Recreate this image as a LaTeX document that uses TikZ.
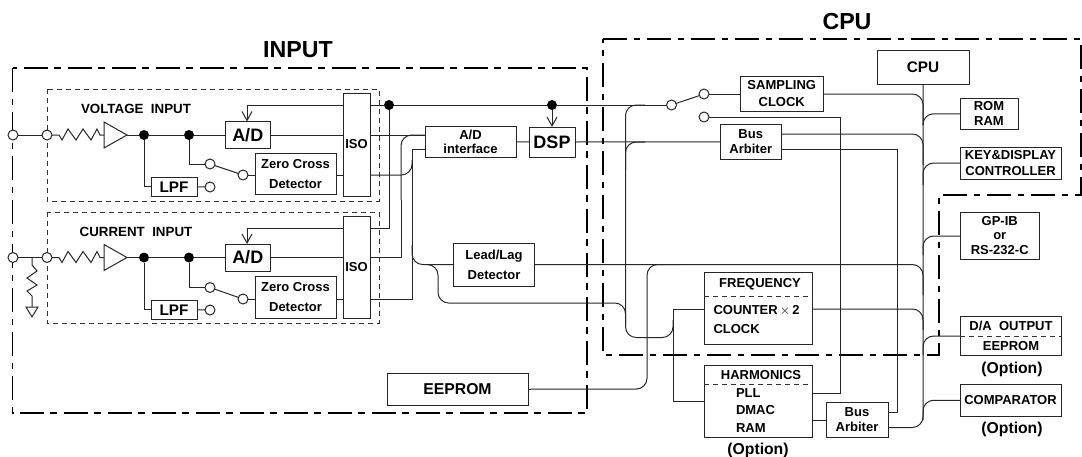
\documentclass[tikz,border=0pt]{standalone}
\usepackage{fontspec}
\setmainfont{Liberation Sans}
\usetikzlibrary{arrows.meta}
\newcommand{\fz}[2]{\fontsize{#1}{#2}\selectfont\bfseries}
\newcommand{\boxn}[7][]{\node[bx,#1,minimum width={(#5-#3)*0.75pt},minimum height={(#6-#4)*0.75pt}] (#2) at ({(#3+#5)/2},{(#4+#6)/2}) {#7};}
\tikzset{
  wire/.style={line width=0.75pt,draw=black!85},
  rc/.style={wire,rounded corners=8pt},
  region/.style={line width=1.2pt,draw=black,dash pattern=on 18pt off 5pt on 5pt off 5pt},
  inner/.style={line width=0.7pt,draw=black!80,dash pattern=on 3.75pt off 3pt},
  bx/.style={draw=black!85,line width=0.75pt,fill=white,inner sep=0pt,outer sep=0pt,align=center,font=\fz{9.75}{15}},
  term/.style={circle,draw=black!85,fill=white,line width=0.75pt,minimum size=7.5pt,inner sep=0pt,outer sep=0pt},
  jdot/.style={circle,fill=black,minimum size=7.5pt,inner sep=0pt,outer sep=0pt},
  lab/.style={inner sep=0pt,outer sep=0pt,align=center,font=\fz{9.75}{15}},
  opt/.style={lab,font=\fz{11.8}{14}},
  title/.style={lab,font=\fz{17.4}{20}},
  barb/.style={-{Straight Barb[length=6.75pt,width=7.5pt]}}
}
\begin{document}
\begin{tikzpicture}[x=0.75pt,y=-0.75pt]
\useasboundingbox (0,0) rectangle (1082,457);
% regions
\draw[region] (12.5,68) rectangle (587,413);
\draw[region] (603,39) -- (1081,39) -- (1081,195) -- (939,195) -- (939,355) -- (603,355) -- cycle;
\node[title] (tinput) at (298,50) {INPUT};
\node[title] (tcpu) at (847,22) {CPU};
\draw[inner] (47,89) rectangle (379,201);
\draw[inner] (47,212) rectangle (379,323);
\node[lab,font=\fz{10}{15}] (tvolt) at (136,109) {VOLTAGE\ \ INPUT};
\node[lab,font=\fz{10}{15}] (tcurr) at (136,232) {CURRENT\ \ INPUT};
% boxes
\boxn[font=\fz{13.5}{15}]{ad1}{225}{121.5}{270.5}{148.5}{A/D}
\boxn[font=\fz{13.5}{15}]{ad2}{225}{244}{270.5}{271}{A/D}
\boxn{iso1}{343}{93}{370}{196}{ISO}
\boxn{iso2}{343}{216}{370}{318}{ISO}
\boxn{zc1}{255}{153.5}{336}{194}{Zero Cross\\Detector}
\boxn{zc2}{255}{276.5}{336}{318}{Zero Cross\\Detector}
\boxn[font=\fz{11.5}{14}]{lpf1}{151}{177.5}{197}{196}{LPF}
\boxn[font=\fz{11.5}{14}]{lpf2}{151}{300.5}{197}{319}{LPF}
\boxn[font=\fz{9.75}{10.5}]{adif}{425}{126}{516}{157}{A/D\\interface}
\boxn[font=\fz{13.5}{15}]{dsp}{529}{127}{575}{157}{DSP}
\boxn{leadlag}{453.5}{243}{534.5}{286}{Lead/Lag\\Detector}
\boxn[font=\fz{11.8}{14}]{eeprom}{387}{373.5}{528}{405}{EEPROM}
\boxn[font=\fz{11.5}{14}]{cpu}{877}{50.5}{969}{84.5}{CPU}
\boxn[font=\fz{9.75}{12.5}]{samp}{740}{76}{823.5}{111}{SAMPLING\\CLOCK}
\boxn[font=\fz{9.75}{11.2}]{ba1}{720}{124.5}{781.5}{159}{Bus\\Arbiter}
\boxn[font=\fz{9.75}{11.2}]{ba2}{826}{402.5}{888}{437.5}{Bus\\Arbiter}
\boxn[font=\fz{9.75}{11.2}]{rom}{960}{98}{1018}{129.5}{ROM\\RAM}
\boxn[font=\fz{9.75}{12}]{key}{960}{147}{1061}{179}{KEY\&DISPLAY\\CONTROLLER}
\boxn[font=\fz{9.75}{10.9}]{gp}{960}{212}{1039.5}{259}{GP-IB\\or\\RS-232-C}
\boxn{freq}{704}{272.5}{812.5}{344.5}{}
\boxn{harm}{704}{365.5}{812.5}{437}{}
\boxn{da}{960}{316}{1061}{355}{}
\boxn{comp}{960}{384.5}{1061}{416}{COMPARATOR}
% box contents
\draw[inner] (freq.west |- 0,296) -- (freq.east |- 0,296);
\draw[inner] (harm.west |- 0,384) -- (harm.east |- 0,384);
\draw[inner] (da.west |- 0,336) -- (da.east |- 0,336);
\node[lab] (tf1) at (760,284) {FREQUENCY};
\node[lab,anchor=west] (tf2) at (713.5,311) {COUNTER\,$\times$\,2};
\node[lab,anchor=west] (tf3) at (713.5,329) {CLOCK};
\node[lab] (th1) at (761,375) {HARMONICS};
\node[lab,anchor=west] (th2) at (736,393) {PLL};
\node[lab,anchor=west] (th3) at (736,410.5) {DMAC};
\node[lab,anchor=west] (th4) at (736,428) {RAM};
\node[opt] (th5) at (758,450) {(Option)};
\node[lab] (td1) at (1011,326) {D/A\ \ OUTPUT};
\node[lab] (td2) at (1011,346) {EEPROM};
\node[opt] (td3) at (1012,369) {(Option)};
\node[opt] (tc3) at (1012,429) {(Option)};
% terminals and dots
\node[term] (in1) at (13,135) {};
\node[term] (vi1) at (47,135) {};
\node[term] (in2) at (13,257.5) {};
\node[term] (vi2) at (47,257.5) {};
\node[jdot] (d11) at (144,135) {};
\node[jdot] (d12) at (189,135) {};
\node[jdot] (d21) at (144,257.5) {};
\node[jdot] (d22) at (189,257.5) {};
\node[jdot] (dtop) at (389,105) {};
\node[jdot] (ddsp) at (552,105) {};
\node[term] (s1a) at (210,164) {};
\node[term] (s1c) at (243,175) {};
\node[term] (s1b) at (210,187) {};
\node[term] (s2a) at (210,287.5) {};
\node[term] (s2c) at (243,299) {};
\node[term] (s2b) at (210,310) {};
\node[term] (s3c) at (671.5,105) {};
\node[term] (s3a) at (704,94) {};
\node[term] (s3b) at (704,117) {};
% named points
\coordinate (amp1) at (127,135);
\coordinate (amp2) at (127,257.5);
\coordinate (busA) at (923,125);
\coordinate (busB) at (923,165);
\coordinate (busC) at (923,185);
\coordinate (busD) at (923,255);
\coordinate (busE) at (923,295);
\coordinate (busF) at (923,330);
\coordinate (busG) at (923,355);
\coordinate (busH) at (923,420);
\coordinate (leftA) at (625.5,170);
\coordinate (leftB) at (625.5,325);
\coordinate (x412a) at (412,149);
\coordinate (x412b) at (412,299);
\coordinate (x673a) at (673,309);
\coordinate (x673b) at (673,401.5);
% input chains
\begin{scope}[wire]
\draw (in1) -- (vi1);
\draw (vi1) -- (51.5,135) -- (59,135) -- (62,140) -- (68,129) -- (76,140) -- (83,129) -- (91,140) -- (97,129) -- (100,135) -- (104,135);
\draw (104,122) -- (amp1) -- (104,148) -- cycle;
\draw (amp1) -- (d11) -- (d12) -- (ad1);
\draw (ad1) -- (iso1.west |- ad1);
\draw (d11) |- (lpf1);
\draw (lpf1) -- (s1b);
\draw (d12) |- (s1a);
\draw (s1a) -- (s1c);
\draw (s1c) -- (s1c -| zc1.west);
\draw (zc1.east |- s1c) -- (iso1.west |- s1c);
\draw[barb] (iso1.west |- dtop) -| (ad1.north -| 247,0);
\draw (in2) -- (vi2);
\draw (vi2) -- (51.5,257.5) -- (59,257.5) -- (62,262.5) -- (68,251.5) -- (76,262.5) -- (83,251.5) -- (91,262.5) -- (97,251.5) -- (100,257.5) -- (104,257.5);
\draw (104,244.5) -- (amp2) -- (104,270.5) -- cycle;
\draw (amp2) -- (d21) -- (d22) -- (ad2);
\draw (ad2) -- (iso2.west |- ad2);
\draw (d21) |- (lpf2);
\draw (lpf2) -- (s2b);
\draw (d22) |- (s2a);
\draw (s2a) -- (s2c);
\draw (s2c) -- (s2c -| zc2.west);
\draw (zc2.east |- s2c) -- (iso2.west |- s2c);
\draw[barb] (iso2.west |- 0,228) -| (ad2.north -| 247,0);
% shunt
\draw (32,257.5) -- (32,265) -- (37,271) -- (27,278) -- (37,285) -- (27,291) -- (32,296) -- (32,307);
\draw (26,307) -- (38,307) -- (32,317) -- cycle;
% ISO outputs
\draw (iso1.east |- dtop) -- (dtop) -- (ddsp) -- (s3c);
\draw (dtop) |- (iso2.east |- 0,228);
\draw[barb] (ddsp) -- (dsp.north -| ddsp);
\draw (iso1.east |- 0,135) -- (adif.west |- 0,135);
\draw (iso2.east |- 0,257) -- (401,257) -- (401,200);
\draw[rounded corners=8pt] (401,200) -- (401,135) -- (adif.west |- 0,135);
\draw[rounded corners=8pt] (iso1.east |- s1c) -- (412,175) -- (412,160);
\draw (adif.west |- x412a) -- (x412a) -- (x412b) -- (iso2.east |- x412b);
\draw (adif) -- (dsp);
\draw (dsp.east) -- (ba1.west);
\end{scope}
% cpu side wires
\draw[rc] (412,245) -- (412,264.5) -- (leadlag.west);
\draw[rc] (430,264.5) -- (438,264.5) -- (438,303) -- (625.5,303) -- (leftB);
\draw[rc] (leadlag.east) -- (923,264.5) -- (busE);
\draw[rc] (eeprom.east) -- (647,389) -- (647,264.5) -- (680,264.5);
\draw[rc] (645,105) -- (625.5,105) -- (625.5,337.5) -- (673,337.5) -- (673,320);
\draw[rc] (645,142) -- (625.5,142) -- (leftA);
\draw[wire] (x673a) -- (x673b);
\draw[wire] (freq.west |- x673a) -- (x673a);
\draw[wire] (harm.west |- x673b) -- (x673b);
\draw[wire] (s3c) -- (s3a);
\draw[wire] (s3a) -- (samp.west |- s3a);
\draw[wire] (s3b) -- (840,117) -- (840,393) -- (harm.east |- 0,393);
\draw[rc] (samp.east |- s3a) -| (busA);
\draw[rc] (ba1.east |- 0,134) -| (busB);
\draw[wire] (ba1.east |- 0,149) -- (897.3,149) -- (897.3,412.5) -- (ba2.east |- 0,412.5);
\draw[wire] (harm.east |- 0,420) -- (ba2.west |- 0,420);
\draw[rc] (cpu.south) -- (923,427.5) -- (ba2.east |- 0,427.5);
\draw[rc] (rom.west) -| (busA);
\draw[rc] (key.west) -| (busC);
\draw[rc] (gp.west |- 0,236) -| (busD);
\draw[rc] (freq.east |- 0,309) -| (busF);
\draw[rc] (da.west |- 0,336) -| (busG);
\draw[rc] (comp.west) -| (busH);
\end{tikzpicture}
\end{document}
